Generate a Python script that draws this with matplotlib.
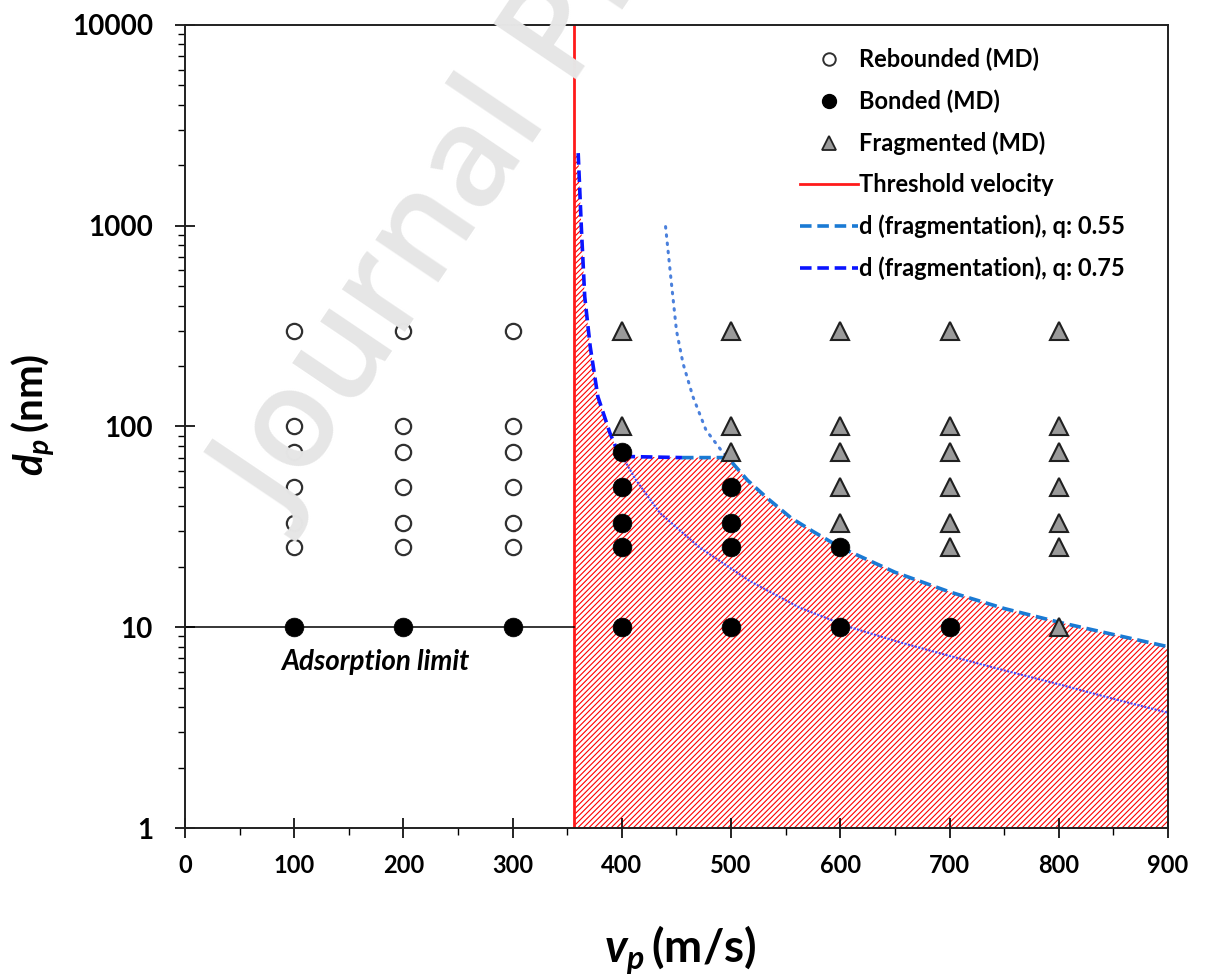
import numpy as np
import matplotlib
matplotlib.use('Agg')
import matplotlib.pyplot as plt
from matplotlib.lines import Line2D
from matplotlib.ticker import FixedLocator, FixedFormatter, NullFormatter

plt.rcParams['font.family'] = ['Lato', 'DejaVu Sans']
plt.rcParams['font.weight'] = 'bold'
plt.rcParams['mathtext.fontset'] = 'custom'
plt.rcParams['mathtext.it'] = 'Lato:bold:italic'
plt.rcParams['mathtext.rm'] = 'Lato:bold'
plt.rcParams['mathtext.bf'] = 'Lato:bold'
plt.rcParams['hatch.linewidth'] = 0.8
plt.rcParams['hatch.color'] = 'red'

#%% data

# MD outcomes (velocity m/s, diameter nm)
rebound_v = [100, 100, 100, 100, 100, 100,
             200, 200, 200, 200, 200, 200,
             300, 300, 300, 300, 300, 300]
rebound_d = [300, 100, 75, 50, 33, 25,
             300, 100, 75, 50, 33, 25,
             300, 100, 75, 50, 33, 25]

bonded_v = [100, 200, 300, 400, 500, 600, 700,
            400, 400, 400, 400, 500, 500, 500, 600]
bonded_d = [10, 10, 10, 10, 10, 10, 10,
            75, 50, 33, 25, 50, 33, 25, 25]

frag_v = [400, 400,
          500, 500, 500,
          600, 600, 600, 600, 600,
          700, 700, 700, 700, 700, 700,
          800, 800, 800, 800, 800, 800, 800]
frag_d = [300, 100,
          300, 100, 75,
          300, 100, 75, 50, 33,
          300, 100, 75, 50, 33, 25,
          300, 100, 75, 50, 33, 25, 10]

v_threshold = 356
d_adsorption = 10

# fragmentation curve q = 0.75 (dashed, dark blue) incl. flat cap
q75_v = [360, 363, 366, 371, 378, 389, 398, 455]
q75_d = [2300, 950, 443, 250, 141, 93, 71, 70]

# continuation of q = 0.75 below the cap (thin)
q75_ext_v = [401, 413, 435, 471, 517, 563, 609, 655, 700, 750, 800, 850, 900]
q75_ext_d = [70, 54, 37, 25, 17, 12.5, 10.0, 8.4, 7.2, 6.1, 5.2, 4.4, 3.75]

# fragmentation curve q = 0.55 (dashed, light blue)
q55_v = [455, 497, 515, 533, 555, 575, 600, 650, 700, 750, 800, 850, 900]
q55_d = [70, 70, 54, 44, 35, 30, 25, 18.8, 15.0, 12.4, 10.6, 9.2, 8.0]

# q = 0.55 above the cap (dotted)
q55_ext_v = [440, 445, 450, 456, 465, 477, 491, 497]
q55_ext_d = [990, 540, 300, 206, 141, 96, 76, 70]

#%% figure
fig = plt.figure(figsize=(12.05, 9.8), dpi=100)
ax = fig.add_axes([0.1535, 0.1551, 0.8158, 0.8194])
ax.patch.set_facecolor('none')

# hatched bonding window
fill_v = np.concatenate([[v_threshold, v_threshold], q75_v, q55_v[1:], [900]])
fill_d = np.concatenate([[1, 2300], q75_d, q55_d[1:], [1]])
ax.fill(fill_v, fill_d, facecolor='none', edgecolor='red', hatch='//////', lw=0, zorder=1)

ax.axvline(v_threshold, color='#ff1a1a', lw=2.0, zorder=2)
ax.plot([0, v_threshold], [d_adsorption, d_adsorption], color='black', lw=1.1, zorder=2)

ax.plot(q75_ext_v, q75_ext_d, color='#4848f8', lw=1.5, ls=(0, (1, 0.7)), zorder=2)
ax.plot(q55_ext_v, q55_ext_d, color='#4a80dc', lw=2.2, ls=(0, (0.5, 2.2)),
        dash_capstyle='round', zorder=2)
ax.plot(q75_v, q75_d, color='#0a14ff', lw=2.6, ls=(0, (3.2, 1.6)), zorder=2)
ax.plot(q55_v, q55_d, color='#1a7ad4', lw=2.6, ls=(0, (3.2, 1.6)), zorder=2)

ax.plot(rebound_v, rebound_d, ls='none', marker='o', ms=11, mfc='white',
        mec='#303030', mew=1.6, zorder=4)
ax.plot(bonded_v, bonded_d, ls='none', marker='o', ms=13.5, mfc='black',
        mec='black', mew=0.5, zorder=4)
ax.plot(frag_v, frag_d, ls='none', marker='^', ms=12.5, mfc='#9a9a9a',
        mec='#202020', mew=1.5, zorder=4)

ax.text(174, 6.7, 'Adsorption limit', fontsize=20, fontstyle='italic',
        fontweight='bold', ha='center', va='center')

ax.set_xlim(0, 900)
ax.set_yscale('log')
ax.set_ylim(1, 10000)

ax.xaxis.set_major_locator(FixedLocator(np.arange(0, 901, 100)))
ax.xaxis.set_minor_locator(FixedLocator(np.arange(50, 900, 100)))
ax.yaxis.set_major_locator(FixedLocator([1, 10, 100, 1000, 10000]))
ax.yaxis.set_major_formatter(FixedFormatter(['1', '10', '100', '1000', '10000']))
ax.yaxis.set_minor_locator(FixedLocator([m * 10.0 ** e for e in range(4) for m in range(2, 10)]))
ax.yaxis.set_minor_formatter(NullFormatter())

ax.tick_params(axis='both', which='major', direction='inout', length=14, width=1.2)
ax.tick_params(axis='both', which='minor', direction='out', length=5, width=1.0)
ax.tick_params(axis='x', which='major', labelsize=17, pad=12)
ax.tick_params(axis='y', which='major', labelsize=20, pad=16)
for lab in ax.get_xticklabels() + ax.get_yticklabels():
    lab.set_fontweight('bold')
for sp in ax.spines.values():
    sp.set_linewidth(1.4)
    sp.set_color('#202020')

fig.text(0.5643, 0.031, r'$v_p\,$(m/s)', fontsize=33, ha='center', va='center')
fig.text(0.028, 0.5765, r'$d_p\,$(nm)', fontsize=29, ha='center', va='center',
         rotation=90)

handles = [
    Line2D([], [], ls='none', marker='o', ms=9, mfc='white', mec='#303030', mew=1.4),
    Line2D([], [], ls='none', marker='o', ms=10, mfc='black', mec='black'),
    Line2D([], [], ls='none', marker='^', ms=10, mfc='#9a9a9a', mec='#202020', mew=1.3),
    Line2D([], [], color='#ff1a1a', lw=2.0),
    Line2D([], [], color='#1a7ad4', lw=2.6, ls=(0, (3.2, 1.6))),
    Line2D([], [], color='#0a14ff', lw=2.6, ls=(0, (3.2, 1.6))),
]
labels = ['Rebounded (MD)', 'Bonded (MD)', 'Fragmented (MD)', 'Threshold velocity',
          'd (fragmentation), q: 0.55', 'd (fragmentation), q: 0.75']
ax.legend(handles, labels, loc='upper left', bbox_to_anchor=(0.6256, 0.972),
          frameon=False, fontsize=17, handlelength=2.45, handletextpad=0.05,
          labelspacing=0.78, borderaxespad=0, borderpad=0)

fig.text(0.236, 0.462, 'Journal Pre-proof', rotation=56, rotation_mode='anchor',
         fontsize=100, family='Open Sans', fontweight='semibold', color='#e6e6e6',
         ha='left', va='baseline', zorder=10)

fig.savefig('out.png', dpi=100)
